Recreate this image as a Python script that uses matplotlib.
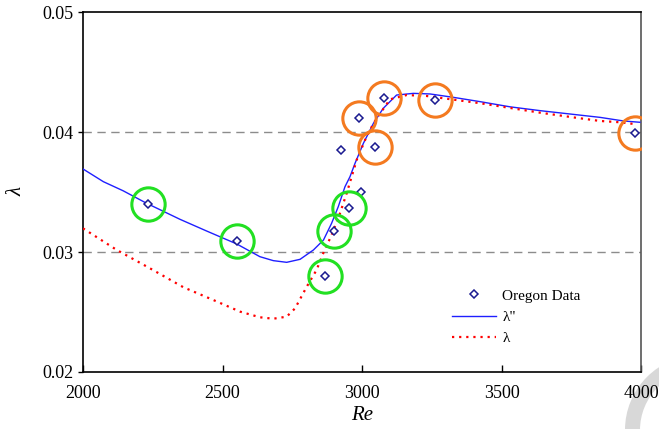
import matplotlib
matplotlib.use("Agg")
import matplotlib.pyplot as plt
from matplotlib.patches import Ellipse

plt.rcParams['font.family'] = ['Liberation Serif', 'DejaVu Serif']

# Oregon measurements
re_data = [2233, 2551, 2867, 2901, 2955, 2996, 2926, 2988, 3047, 3080, 3263, 3978]
lam_data = [0.0340, 0.03094, 0.02803, 0.03178, 0.03364, 0.0350, 0.0385,
            0.0412, 0.03875, 0.04283, 0.04264, 0.03994]

# highlighted points (indices into the data above)
green_idx = [0, 1, 2, 3, 4]
orange_idx = [7, 8, 9, 10, 11]

# lambda'' curve
re_dd = [2000, 2073, 2144, 2228, 2348, 2443, 2551, 2634, 2682, 2730, 2778,
         2826, 2862, 2891, 2915, 2939, 2957, 2975, 3005, 3041, 3076, 3124,
         3184, 3244, 3327, 3423, 3530, 3638, 3757, 3853, 3937, 3996]
lam_dd = [0.03692, 0.03586, 0.0351, 0.03406, 0.03272, 0.03175, 0.03067,
          0.02961, 0.02928, 0.02914, 0.02939, 0.03017, 0.0310, 0.03239,
          0.03378, 0.03544, 0.03628, 0.03739, 0.03906, 0.04072, 0.04197,
          0.04308, 0.04322, 0.04317, 0.04289, 0.04253, 0.0421, 0.04178,
          0.04147, 0.04122, 0.04092, 0.04081]

# lambda curve
re_l = [2000, 2121, 2240, 2360, 2467, 2563, 2634, 2682, 2730, 2760, 2802,
        2837, 2861, 2891, 2921, 2945, 2981, 3011, 3041, 3100, 3160, 3232,
        3327, 3423, 3638, 3757, 3853, 3925, 3985]
lam_l = [0.03197, 0.03017, 0.02864, 0.02706, 0.0260, 0.02503, 0.02456,
         0.02444, 0.02461, 0.0253, 0.02711, 0.0285, 0.02989, 0.03142,
         0.03322, 0.03489, 0.03767, 0.03933, 0.04072, 0.04272, 0.04308,
         0.0430, 0.0427, 0.0424, 0.04161, 0.04122, 0.04092, 0.04081, 0.04064]

xticks = [2000, 2500, 3000, 3500, 4000]
yticks = [0.02, 0.03, 0.04, 0.05]
ytick_labels = ['0.02', '0.03', '0.04', '0.05']
grid_levels = [0.03, 0.04]

fig = plt.figure(figsize=(6.59, 4.29), dpi=100)
ax = fig.add_axes([83/659, 57/429, 558/659, 360/429])
ax.patch.set_alpha(0)

# faint ring in the lower right corner, behind everything else
fig.patches.append(Ellipse((700/659, -1/429), 135/659, 135/429,
                           transform=fig.transFigure, fill=False,
                           ec='#d8d8d8', lw=10.8, zorder=-5))

for g in grid_levels:
    ax.axhline(g, color='#8c8c8c', lw=1.0, ls=(0, (6, 4)), zorder=1)

ax.plot(re_dd, lam_dd, color='#1f1fff', lw=1.0, label='λ"', zorder=3)
ax.plot(re_l, lam_l, color='#ff0000', lw=1.6, ls=(0, (1, 2.2)), label='λ', zorder=3)
ax.plot(re_data, lam_data, ls='none', marker='D', ms=4.5, mfc='white',
        mec='#1a1a90', mew=1.1, label='Oregon Data', zorder=4)

ax.plot([re_data[i] for i in green_idx], [lam_data[i] for i in green_idx],
        ls='none', marker='o', ms=24, mfc='none', mec='#22e022', mew=2.2, zorder=5)
ax.plot([re_data[i] for i in orange_idx], [lam_data[i] for i in orange_idx],
        ls='none', marker='o', ms=24, mfc='none', mec='#f47a20', mew=2.2, zorder=5)

ax.set_xlim(2000, 4000)
ax.set_ylim(0.02, 0.05)
ax.set_xticks(xticks)
ax.set_yticks(yticks)
ax.set_yticklabels(ytick_labels)
ax.tick_params(axis='x', direction='in', length=5, width=1, labelsize=13, pad=9)
ax.tick_params(axis='y', direction='out', length=3.5, width=1, labelsize=13, pad=3)
for s in ax.spines.values():
    s.set_linewidth(1.2)
ax.spines['right'].set_color('#555555')

ax.set_xlabel('Re', fontsize=15, style='italic', labelpad=3)
ax.set_ylabel('λ', fontsize=15, style='italic', labelpad=12)

handles, labels = ax.get_legend_handles_labels()
order = [2, 0, 1]
ax.legend([handles[i] for i in order], [labels[i] for i in order],
          loc='upper left', bbox_to_anchor=(452/659, 1 - 289/429),
          bbox_transform=fig.transFigure, frameon=False, fontsize=11,
          handlelength=2.9, handletextpad=0.4, borderpad=0, borderaxespad=0,
          labelspacing=0.5)

fig.savefig('out.png', dpi=100)
